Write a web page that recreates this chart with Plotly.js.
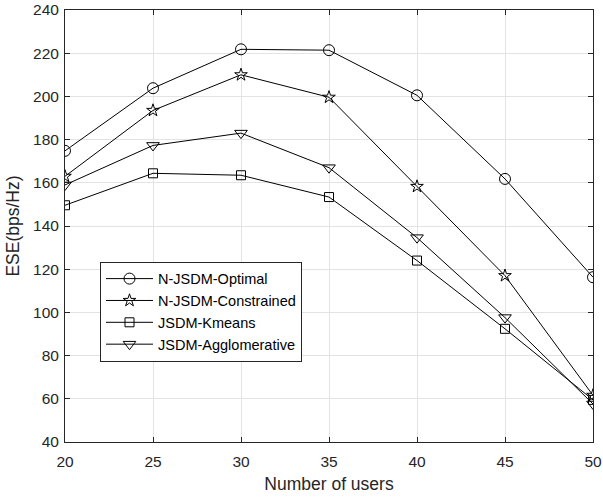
<!DOCTYPE html>
<html>
<head>
<meta charset="utf-8">
<script src="https://cdn.plot.ly/plotly-3.0.1.min.js"></script>
<style>html,body{margin:0;padding:0;background:#fff;}#chart{width:603px;height:497px;}</style>
</head>
<body>
<div id="chart"></div>
<script>
var users = [20, 25, 30, 35, 40, 45, 50];
var optimal = [174.8, 203.8, 221.8, 221.4, 200.5, 161.8, 116.3];
var constrained = [163.0, 193.5, 210.0, 199.6, 158.3, 117.0, 61.6];
var kmeans = [149.6, 164.4, 163.5, 153.4, 124.0, 92.4, 59.5];
var agglomerative = [159.0, 177.3, 183.0, 167.0, 134.6, 97.6, 57.6];
var seriesNames = ['N-JSDM-Optimal', 'N-JSDM-Constrained', 'JSDM-Kmeans', 'JSDM-Agglomerative'];
var yTicks = [40, 60, 80, 100, 120, 140, 160, 180, 200, 220, 240];
var xTicks = [20, 25, 30, 35, 40, 45, 50];

var symbols = ['circle-open', 'star-open', 'square-open', 'triangle-down-open'];
var sizes = [11, 9.5, 9, 11];
var ys = [optimal, constrained, kmeans, agglomerative];
var traces = ys.map(function (y, i) {
  return {
    x: users, y: y, name: seriesNames[i], type: 'scatter', mode: 'lines+markers',
    line: {color: '#000000', width: 1},
    marker: {symbol: symbols[i], size: sizes[i], color: '#000000', line: {color: '#000000', width: 1}}
  };
});

var axisCommon = {
  showline: true, linecolor: '#262626', linewidth: 1, mirror: 'ticks',
  ticks: 'inside', ticklen: 5, tickcolor: '#262626', tickwidth: 1,
  showgrid: true, gridcolor: '#e3e3e3', gridwidth: 1, zeroline: false,
  tickfont: {family: 'Liberation Sans, Arial, sans-serif', size: 15.5, color: '#262626'}
};

var layout = {
  width: 603, height: 497,
  margin: {l: 65, r: 10, t: 10, b: 55},
  paper_bgcolor: '#ffffff', plot_bgcolor: '#ffffff',
  showlegend: true,
  legend: {
    x: 0.0663, y: 0.4174, xanchor: 'left', yanchor: 'top',
    bgcolor: '#ffffff', bordercolor: '#262626', borderwidth: 1,
    font: {family: 'Liberation Sans, Arial, sans-serif', size: 14.5, color: '#000000'},
    itemwidth: 47, tracegroupgap: 0
  },
  xaxis: Object.assign({}, axisCommon, {
    range: [20, 50], tickvals: xTicks, ticklabelstandoff: 5,
    title: {text: 'Number of users', standoff: 9, font: {family: 'Liberation Sans, Arial, sans-serif', size: 17.5, color: '#262626'}}
  }),
  yaxis: Object.assign({}, axisCommon, {
    range: [40, 240], tickvals: yTicks, ticklabelstandoff: 2,
    title: {text: 'ESE(bps/Hz)', standoff: 8, font: {family: 'Liberation Sans, Arial, sans-serif', size: 17.5, color: '#262626'}}
  })
};

Plotly.newPlot('chart', traces, layout, {displayModeBar: false, staticPlot: true});
</script>
</body>
</html>
